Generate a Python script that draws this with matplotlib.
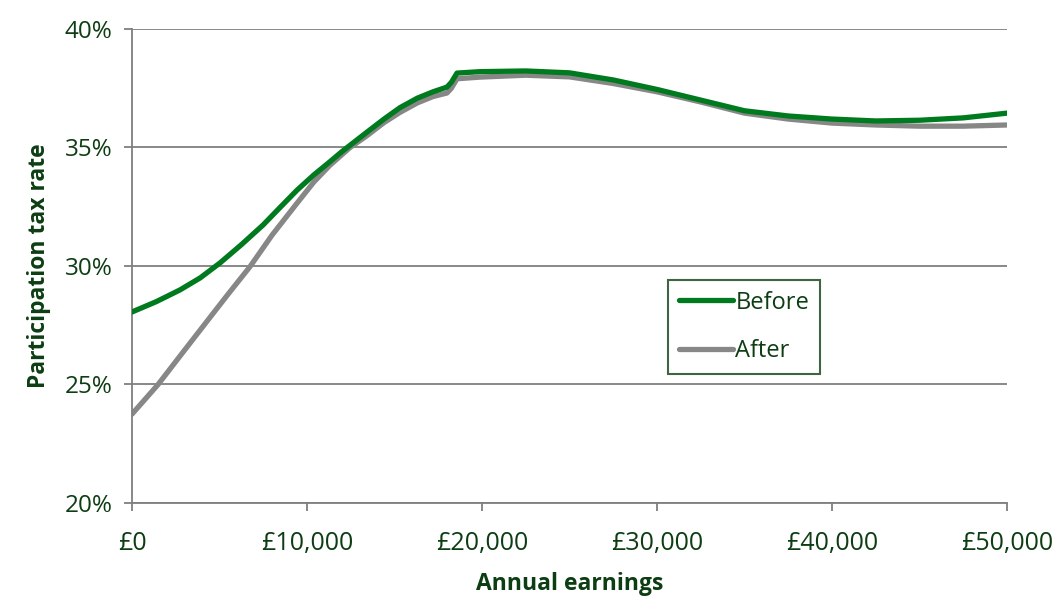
import numpy as np
import matplotlib.pyplot as plt
from matplotlib.ticker import FuncFormatter

plt.rcParams['font.family'] = ['Open Sans', 'DejaVu Sans']

# earnings (GBP) and participation tax rates (%)
earn_before = [0, 1400, 2740, 3900, 5030, 6250, 7490, 8500, 9430, 10400, 11310, 12000,
               13430, 14400, 15310, 16300, 17200, 18000, 18250, 18570, 19890, 22500,
               25000, 27500, 30000, 32500, 35000, 37500, 40000, 42500, 45000, 47500,
               50000]
ptr_before = [28.06, 28.5, 28.99, 29.5, 30.13, 30.9, 31.73, 32.5, 33.2, 33.85, 34.4, 34.83,
              35.65, 36.2, 36.68, 37.08, 37.35, 37.55, 37.75, 38.14, 38.2, 38.23,
              38.15, 37.85, 37.45, 37.0, 36.55, 36.33, 36.2, 36.12, 36.15, 36.25,
              36.45]

earn_after = [0, 1490, 2900, 4340, 5500, 6740, 8000, 9430, 10400, 11310, 12460,
              13430, 14400, 15310, 16300, 17200, 18000, 18250, 18570, 19890, 22500,
              25000, 27500, 30000, 32500, 35000, 37500, 40000, 42500, 45000, 47500,
              50000]
ptr_after = [23.75, 25.0, 26.35, 27.72, 28.82, 29.97, 31.3, 32.65, 33.55, 34.25, 35.0,
             35.5, 36.05, 36.48, 36.88, 37.15, 37.3, 37.5, 37.9, 37.97, 38.05,
             37.98, 37.7, 37.35, 36.92, 36.45, 36.2, 36.03, 35.95, 35.9, 35.9,
             35.95]

text_col = '#0d3d12'
axis_col = '#7f7f7f'

fig = plt.figure(figsize=(10.57, 6.06), dpi=100)
ax = fig.add_axes([132 / 1057, 1 - 503 / 606, 875 / 1057, 474 / 606])

ax.plot(earn_before, ptr_before, color='#007a1e', lw=3.8, solid_capstyle='round',
        solid_joinstyle='round', label='Before', zorder=3)
ax.plot(earn_after, ptr_after, color='#878787', lw=3.8, solid_capstyle='round',
        solid_joinstyle='round', label='After', zorder=2)

ax.set_xlim(0, 50000)
ax.set_ylim(20, 40)
ax.set_xticks(np.arange(0, 50001, 10000))
ax.set_yticks(np.arange(20, 41, 5))
ax.xaxis.set_major_formatter(FuncFormatter(lambda v, p: '£{:,.0f}'.format(v)))
ax.yaxis.set_major_formatter(FuncFormatter(lambda v, p: '{:.0f}%'.format(v)))

ax.grid(axis='y', color=axis_col, lw=1.3)
ax.set_axisbelow(True)
for s in ['top', 'right']:
    ax.spines[s].set_visible(False)
for s in ['left', 'bottom']:
    ax.spines[s].set_color(axis_col)
    ax.spines[s].set_linewidth(1.3)
ax.tick_params(axis='both', colors=axis_col, length=6, width=1.3,
               labelcolor=text_col, labelsize=17.5)
ax.tick_params(axis='x', labelsize=18, pad=14)
ax.tick_params(axis='y', pad=8)

ax.set_xlabel('Annual earnings', fontsize=16.5, fontweight='bold', color=text_col,
              labelpad=12)
ax.set_ylabel('Participation tax rate', fontsize=16.5, fontweight='bold',
              color=text_col, labelpad=10)

leg = ax.legend(loc='upper left', bbox_to_anchor=(536 / 875, 1 - 251 / 474),
                borderaxespad=0, fontsize=17, frameon=True, fancybox=False,
                handlelength=2.3, handletextpad=0.1, labelspacing=1.05,
                borderpad=0.45)
leg.get_frame().set_edgecolor(text_col)
leg.get_frame().set_linewidth(1.5)
for t in leg.get_texts():
    t.set_color(text_col)

fig.savefig('out.png', dpi=100)
